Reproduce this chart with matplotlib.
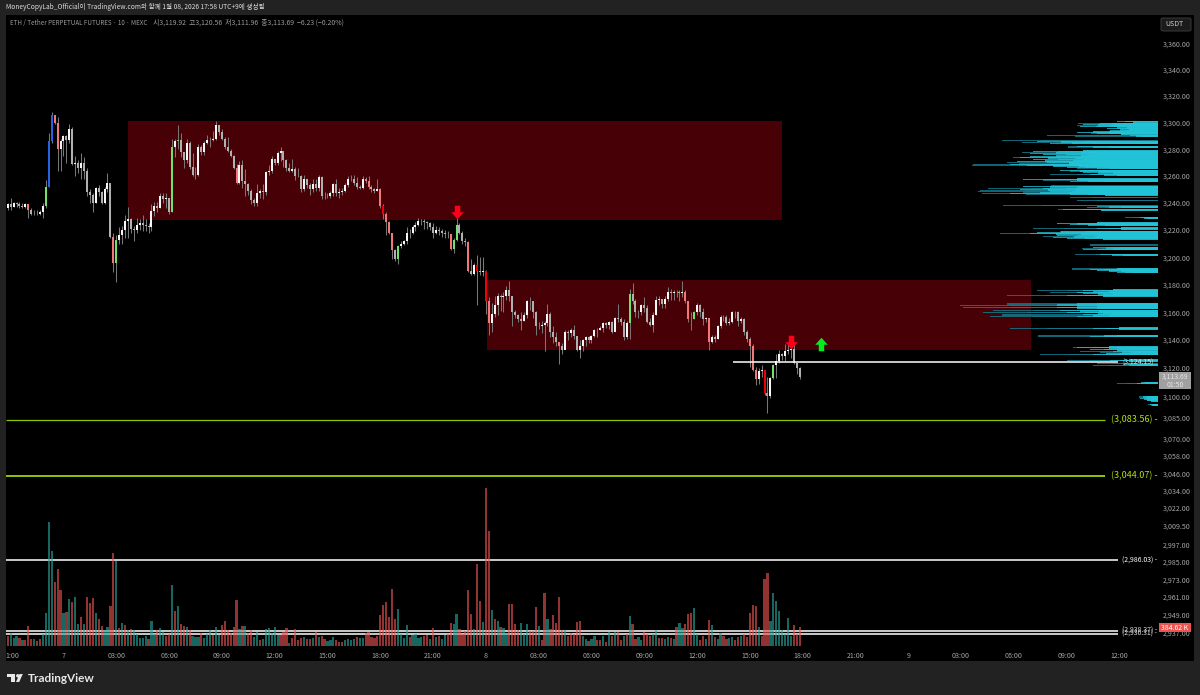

import numpy as np
import matplotlib
matplotlib.use('Agg')
import matplotlib.pyplot as plt
from matplotlib.patches import Rectangle, Ellipse, Polygon, FancyBboxPatch
from matplotlib.path import Path

plt.rcParams['font.family'] = ['Noto Sans CJK KR', 'DejaVu Sans']

##########
## DATA ##
##########

# 10 minute bars, first bar at 20:50 on the 6th (hours counted from 00:00 on the 7th)
first_bar_hour = -19 / 6

closes = [
    3239, 3237, 3240, 3239, 3238, 3237, 3239, 3235, 3232, 3232,
    3232, 3233, 3238, 3252, 3286, 3306, 3300, 3280, 3286, 3290,
    3287, 3295, 3269, 3270, 3266, 3270, 3264, 3248, 3246, 3240,
    3251, 3248, 3240, 3250, 3255, 3215, 3196, 3213, 3216, 3220,
    3227, 3228, 3221, 3220, 3224, 3225, 3224, 3223, 3222, 3234,
    3238, 3236, 3245, 3243, 3244, 3233, 3282, 3286, 3287, 3278,
    3272, 3285, 3267, 3261, 3261, 3282, 3278, 3285, 3287, 3287,
    3288, 3298, 3293, 3288, 3282, 3279, 3275, 3266, 3255, 3268,
    3256, 3254, 3249, 3242, 3240, 3247, 3249, 3248, 3263, 3264,
    3273, 3270, 3277, 3279, 3272, 3266, 3264, 3265, 3260, 3260,
    3250, 3258, 3253, 3250, 3254, 3251, 3259, 3245, 3245, 3245,
    3247, 3254, 3247, 3248, 3249, 3253, 3258, 3258, 3255, 3252,
    3251, 3258, 3256, 3252, 3250, 3249, 3250, 3238, 3232, 3226,
    3218, 3205, 3199, 3208, 3210, 3212, 3218, 3218, 3222, 3224,
    3227, 3227, 3226, 3225, 3222, 3218, 3220, 3219, 3218, 3217,
    3217, 3206, 3213, 3224, 3218, 3212, 3211, 3190, 3188, 3194,
    3190, 3189, 3190, 3168, 3152, 3159, 3165, 3172, 3171, 3172,
    3176, 3172, 3160, 3158, 3155, 3154, 3158, 3168, 3168, 3160,
    3150, 3150, 3151, 3152, 3159, 3146, 3142, 3139, 3136, 3133,
    3146, 3145, 3147, 3143, 3133, 3136, 3140, 3142, 3140, 3143,
    3147, 3147, 3149, 3152, 3151, 3153, 3146, 3156, 3155, 3153,
    3142, 3152, 3173, 3168, 3160, 3160, 3165, 3163, 3153, 3151,
    3158, 3169, 3170, 3166, 3170, 3175, 3174, 3175, 3175, 3174,
    3175, 3168, 3155, 3155, 3160, 3165, 3160, 3155, 3156, 3139,
    3142, 3141, 3150, 3157, 3157, 3152, 3153, 3160, 3160, 3154,
    3155, 3146, 3141, 3136, 3119, 3112, 3118, 3119, 3102, 3100,
    3113, 3122, 3125, 3130, 3129, 3132, 3133, 3134, 3124, 3119.92,
    3113.69]
highs = [
    3240, 3244, 3241, 3241, 3241, 3240, 3240, 3238, 3236, 3235,
    3235, 3235, 3240, 3257, 3292, 3308, 3306, 3304, 3288, 3291,
    3291, 3299, 3297, 3275, 3272, 3277, 3274, 3266, 3250, 3247,
    3252, 3253, 3249, 3252, 3262, 3255, 3218, 3216, 3222, 3223,
    3231, 3237, 3229, 3223, 3229, 3228, 3231, 3228, 3225, 3239,
    3241, 3241, 3247, 3247, 3247, 3241, 3288, 3288, 3298, 3292,
    3278, 3288, 3286, 3277, 3267, 3284, 3283, 3286, 3291, 3289,
    3294, 3301, 3298, 3295, 3289, 3289, 3280, 3276, 3269, 3271,
    3272, 3265, 3255, 3250, 3244, 3254, 3250, 3254, 3264, 3268,
    3275, 3273, 3279, 3282, 3275, 3273, 3270, 3273, 3267, 3266,
    3261, 3261, 3258, 3255, 3258, 3258, 3261, 3260, 3248, 3247,
    3249, 3255, 3258, 3251, 3251, 3255, 3260, 3261, 3261, 3259,
    3253, 3260, 3259, 3260, 3253, 3251, 3258, 3251, 3239, 3233,
    3227, 3218, 3206, 3209, 3212, 3213, 3222, 3221, 3224, 3226,
    3229, 3228, 3228, 3227, 3226, 3225, 3223, 3222, 3221, 3220,
    3219, 3217, 3214, 3229, 3225, 3219, 3214, 3212, 3199, 3196,
    3202, 3200, 3200, 3191, 3171, 3167, 3172, 3174, 3173, 3175,
    3179, 3183, 3172, 3162, 3159, 3160, 3160, 3169, 3171, 3166,
    3161, 3153, 3154, 3154, 3166, 3160, 3150, 3146, 3139, 3138,
    3147, 3147, 3149, 3151, 3143, 3140, 3141, 3143, 3143, 3144,
    3148, 3149, 3150, 3153, 3153, 3154, 3154, 3157, 3166, 3157,
    3155, 3154, 3177, 3181, 3170, 3162, 3166, 3171, 3165, 3156,
    3160, 3172, 3172, 3170, 3172, 3178, 3177, 3176, 3176, 3176,
    3183, 3176, 3168, 3160, 3161, 3167, 3166, 3163, 3157, 3155,
    3144, 3144, 3151, 3158, 3158, 3158, 3156, 3161, 3161, 3161,
    3157, 3156, 3147, 3142, 3137, 3121, 3120, 3122, 3118, 3114,
    3114, 3123, 3130, 3133, 3131, 3137, 3137, 3138, 3139, 3124,
    3120.56]
lows = [
    3235, 3235, 3237, 3237, 3236, 3236, 3236, 3229, 3231, 3231,
    3231, 3231, 3229, 3236, 3252, 3285, 3299, 3264, 3264, 3275,
    3270, 3285, 3268, 3260, 3262, 3258, 3258, 3245, 3240, 3233,
    3240, 3245, 3239, 3239, 3248, 3214, 3189, 3182, 3210, 3210,
    3214, 3214, 3218, 3212, 3218, 3220, 3219, 3219, 3218, 3219,
    3230, 3233, 3236, 3240, 3236, 3232, 3233, 3274, 3280, 3274,
    3266, 3270, 3265, 3260, 3258, 3260, 3276, 3276, 3284, 3282,
    3286, 3287, 3291, 3287, 3280, 3278, 3274, 3265, 3254, 3254,
    3251, 3245, 3246, 3239, 3238, 3238, 3244, 3243, 3246, 3261,
    3262, 3268, 3268, 3271, 3267, 3264, 3263, 3263, 3257, 3259,
    3248, 3249, 3251, 3246, 3248, 3249, 3249, 3243, 3243, 3244,
    3244, 3245, 3245, 3244, 3246, 3248, 3252, 3256, 3253, 3250,
    3250, 3250, 3255, 3250, 3248, 3247, 3249, 3236, 3228, 3216,
    3217, 3199, 3197, 3195, 3207, 3209, 3210, 3214, 3217, 3219,
    3223, 3224, 3221, 3221, 3220, 3214, 3217, 3216, 3215, 3214,
    3214, 3205, 3203, 3212, 3217, 3210, 3208, 3189, 3187, 3187,
    3165, 3187, 3186, 3159, 3144, 3146, 3157, 3158, 3161, 3160,
    3169, 3168, 3150, 3156, 3153, 3147, 3154, 3156, 3162, 3156,
    3144, 3148, 3145, 3132, 3150, 3142, 3138, 3136, 3123, 3130,
    3134, 3140, 3142, 3141, 3132, 3127, 3132, 3136, 3138, 3138,
    3142, 3142, 3147, 3146, 3149, 3148, 3145, 3147, 3153, 3151,
    3140, 3141, 3141, 3166, 3157, 3156, 3158, 3160, 3152, 3150,
    3146, 3158, 3165, 3163, 3163, 3168, 3169, 3169, 3171, 3168,
    3171, 3167, 3153, 3147, 3155, 3158, 3157, 3151, 3153, 3133,
    3138, 3139, 3141, 3149, 3154, 3151, 3151, 3152, 3156, 3150,
    3152, 3144, 3139, 3121, 3118, 3108, 3109, 3114, 3101, 3088,
    3099, 3112, 3113, 3124, 3126, 3125, 3130, 3127, 3123, 3116,
    3111.96]

# bars the chart paints in another colour
green_bars = [13, 37, 56, 58, 133, 152, 153, 212, 229, 234, 261]
blue_bars = [14, 15]
pink_bars = [7, 16, 17, 36, 78, 122, 123, 127, 129, 130, 131, 151, 157, 164, 188,
             231, 232, 239, 253, 254, 255, 259]
red_bars = [128, 160, 163, 258]

# volume, 1 unit is about 6.75K (last bar = 384.62K)
volumes = [
    30, 40, 23, 30, 23, 18, 18, 61, 21, 20,
    16, 20, 35, 100, 373, 286, 192, 230, 168, 100,
    102, 141, 132, 146, 67, 87, 66, 147, 128, 144,
    100, 80, 60, 48, 57, 120, 278, 256, 53, 70,
    63, 48, 50, 48, 36, 24, 24, 30, 21, 74,
    36, 48, 53, 42, 30, 36, 182, 104, 119, 66,
    60, 57, 48, 30, 27, 27, 40, 23, 37, 48,
    33, 57, 33, 63, 75, 48, 39, 57, 138, 51,
    60, 60, 40, 48, 28, 43, 18, 21, 51, 53,
    38, 57, 33, 33, 42, 53, 10, 23, 51, 18,
    24, 26, 20, 21, 23, 42, 27, 30, 21, 15,
    18, 27, 18, 12, 12, 18, 20, 18, 21, 27,
    23, 24, 38, 42, 26, 23, 30, 93, 124, 132,
    87, 170, 81, 112, 36, 23, 64, 27, 33, 36,
    23, 28, 30, 33, 21, 54, 26, 29, 21, 33,
    37, 69, 67, 95, 51, 36, 46, 168, 96, 51,
    246, 134, 71, 473, 345, 108, 82, 75, 58, 54,
    38, 127, 127, 67, 49, 68, 36, 65, 46, 46,
    117, 59, 18, 160, 82, 51, 93, 69, 148, 48,
    48, 30, 40, 36, 72, 75, 30, 21, 14, 20,
    30, 18, 18, 30, 12, 42, 30, 42, 43, 18,
    30, 37, 89, 65, 22, 26, 18, 42, 36, 30,
    37, 48, 23, 23, 21, 26, 24, 21, 57, 68,
    54, 65, 95, 98, 113, 36, 18, 30, 21, 78,
    64, 27, 22, 40, 30, 21, 24, 27, 18, 27,
    30, 36, 27, 99, 122, 119, 57, 30, 202, 220,
    75, 160, 135, 105, 48, 36, 85, 30, 64, 36,
    57]
volume_dirs = (
    'rgggrgrrrg' 'rrggggrrrg' 'rgrggrgrrr' 'grrggrrgrg' 'rgrgggggrg'
    'grggrrgrgr' 'rgrgggrggg' 'rggrrrrrrg' 'rgrrggrggg' 'gggrrrgrrr'
    'rgrrgrgrrg' 'ggrrrggggr' 'ggrrrrrrrr' 'rrrggggrgg' 'ggrrgrgrgg'
    'rrggrrrrrg' 'rrgrrgrgrg' 'grrrrgggrr' 'rgrrgrrrrr' 'grrrrrggrg'
    'grrgrgrgrr' 'grgrrggrrr' 'ggrrggrgrg' 'grrrggrrgr' 'grggrrggrr'
    'grrrrrgrrr' 'ggggggggrr' 'r')

# supply zones
zone_starts = [3.66, 24.06]
zone_ends = [40.82, 54.98]
zone_tops = [3301, 3183.4]
zone_bottoms = [3227.1, 3133]

# level lines
green_levels = [3083.56, 3044.07]
white_levels = [2986.03, 2938.37, 2936.31]
short_level = 3124.15

# signal arrows
down_arrow_hours = [22.36, 41.33]
down_arrow_prices = [3233, 3139]
up_arrow_hours = [43.04]
up_arrow_prices = [3137.5]

# volume profile on the right, far thin rows and the brighter rows over them
profile_dim_prices = [
    3299.5, 3297.8, 3292.2, 3290, 3286.6, 3285.1, 3281.7, 3277.6, 3273.9, 3270.3,
    3268.8, 3267.9, 3265.9, 3263.7, 3261.3, 3256.9, 3252.5, 3250.8, 3249.4, 3248.2,
    3246.7, 3244, 3241.6, 3237.9, 3236.7, 3235, 3229.4, 3224.5, 3221.1, 3218.5,
    3217.2, 3215, 3209, 3206.5, 3201.9, 3191.5, 3175.6, 3174.2, 3172.2, 3166.1,
    3164.9, 3163.7, 3161.3, 3160.1, 3158.1, 3157.2, 3148.4, 3143, 3134.8, 3131.6,
    3129.6, 3125.5, 3123.1, 3121.9, 3109.2, 3099.5, 3097, 3093.9]
profile_dim_vols = [
    80, 81, 90, 111, 156, 136, 120, 136, 145, 151,
    185, 186, 108, 118, 108, 153, 143, 170, 178, 180,
    176, 88, 81, 155, 71, 100, 33, 108, 125, 131,
    158, 115, 91, 76, 83, 115, 121, 108, 151, 201,
    198, 195, 165, 175, 208, 168, 148, 160, 85, 78,
    118, 91, 61, 65, 41, 25, 11, 10]
profile_prices = [
    3300.7, 3299.2, 3298.3, 3297.1, 3295.8, 3294.4, 3292.7, 3291.7, 3290, 3285.6,
    3284.6, 3281.7, 3278.3, 3277.1, 3275.9, 3274.7, 3273.5, 3272.2, 3271, 3269.8,
    3268.6, 3267.6, 3266.6, 3265.7, 3263.7, 3262.3, 3260.8, 3257.4, 3256.2, 3252,
    3250.8, 3249.6, 3248.4, 3247.2, 3246.2, 3237, 3235, 3228.9, 3224.8, 3223.8,
    3221.1, 3218.5, 3217.2, 3216, 3214.8, 3213.8, 3207, 3205.8, 3201.9, 3191.2,
    3190.2, 3189, 3175.9, 3174.7, 3173.5, 3172.2, 3165.9, 3164.7, 3163.2, 3161,
    3159.8, 3158.6, 3157.2, 3148.4, 3142.8, 3134.8, 3133.3, 3131.6, 3129.9, 3125.5,
    3122.4, 3109.2, 3099.5, 3098.3, 3097, 3093.9]
profile_vols = [
    41, 58, 75, 78, 51, 48, 81, 61, 28, 121,
    108, 81, 125, 128, 115, 128, 138, 125, 141, 111,
    148, 131, 91, 61, 98, 75, 68, 135, 88, 135,
    115, 138, 108, 148, 88, 61, 95, 18, 101, 88,
    61, 121, 128, 101, 105, 91, 65, 75, 58, 68,
    61, 41, 75, 81, 75, 91, 101, 101, 101, 98,
    91, 75, 81, 65, 68, 81, 68, 45, 65, 48,
    35, 21, 15, 18, 11, 8]

# axis labels
price_ticks = [3360, 3340, 3320, 3300, 3280, 3260, 3240, 3220, 3200, 3180, 3160, 3140,
               3120, 3100, 3085, 3070, 3058, 3046, 3034, 3022, 3009.5, 2997, 2985,
               2973, 2961, 2949, 2937]
time_ticks = [-2.9, 0, 3, 6, 9, 12, 15, 18, 21, 24, 27, 30, 33, 36, 39, 42, 45, 48, 51, 54, 57, 60]
time_labels = ['1:00', '7', '03:00', '06:00', '09:00', '12:00', '15:00', '18:00', '21:00', '8',
               '03:00', '06:00', '09:00', '12:00', '15:00', '18:00', '21:00', '9',
               '03:00', '06:00', '09:00', '12:00']

header = 'MoneyCopyLab_Official이 TradingView.com와 함께 1월 08, 2026 17:58 UTC+9에 생성됨'
legend_name = 'ETH / Tether PERPETUAL FUTURES · 10 · MEXC'
legend_values = '시3,119.92  고3,120.56  저3,111.96  종3,113.69  −6.23 (−0.20%)'

#############
## COLOURS ##
#############

bg_outer = '#222222'
zone_color = '#470005'
wick_color = '#777777'
up_color = '#f6f6f6'
down_color = '#b0b0b0'
level_green = '#8fc800'
label_green = '#b4e010'
profile_color = '#22c4d8'
profile_dim_color = '#14788a'
tick_color = '#a8a8a8'

############
## FIGURE ##
############

W, H = 1200, 695
fig = plt.figure(figsize=(W / 100, H / 100), dpi=100, facecolor=bg_outer)


def px_rect(x0, y0, x1, y1):
    # figure fractions for a box given in pixels from the top left
    return [x0 / W, 1 - y1 / H, (x1 - x0) / W, (y1 - y0) / H]


def fig_box(x0, y0, x1, y1, color, z):
    l, b, w, h = px_rect(x0, y0, x1, y1)
    fig.add_artist(Rectangle((l, b), w, h, transform=fig.transFigure, color=color, lw=0, zorder=z))


fig_box(6, 15, 1194, 661, 'black', -1)

ax = fig.add_axes(px_rect(6, 15, 1158, 646))
ax.set_facecolor('black')
for s in ax.spines.values():
    s.set_visible(False)
ax.set_yscale('log')
ax.set_xlim(-3.267, 62.19)
ax.set_ylim(2928.1, 3382.1)

# zones
for t0, t1, top, bottom in zip(zone_starts, zone_ends, zone_tops, zone_bottoms):
    ax.add_patch(Rectangle((t0, bottom), t1 - t0, top - bottom, color=zone_color, lw=0, zorder=1))

# candles
closes = np.array(closes)
highs = np.array(highs)
lows = np.array(lows)
opens = np.r_[3236, closes[:-1]]
bar_hours = first_bar_hour + np.arange(len(closes)) / 6

body_colors = [up_color if c >= o else down_color for o, c in zip(opens, closes)]
for idx in green_bars:
    body_colors[idx] = '#72e06c'
for idx in blue_bars:
    body_colors[idx] = '#2563e0'
for idx in pink_bars:
    body_colors[idx] = '#f27878'
for idx in red_bars:
    body_colors[idx] = '#f00008'

ax.vlines(bar_hours, lows, highs, colors=wick_color, lw=0.75, capstyle='butt', zorder=3)
ax.vlines(bar_hours, np.minimum(opens, closes), np.maximum(opens, closes), colors=body_colors,
          lw=1.45, capstyle='butt', zorder=4)

# levels
ax.hlines(green_levels[0], -3.267, 59.2, colors=level_green, lw=0.9, zorder=2)
ax.hlines(green_levels[1], -3.267, 59.2, colors=level_green, lw=1.4, zorder=2)
ax.hlines(white_levels, -3.267, 59.9, colors='white', lw=1.1, zorder=2)
ax.hlines(short_level, 38.04, 59.9, colors='white', lw=1.1, zorder=6)

# arrows
down_marker = Path([(-0.2, 0.5), (0.2, 0.5), (0.2, 0.02), (0.46, 0.02), (0, -0.5), (-0.46, 0.02),
                    (-0.2, 0.02), (-0.2, 0.5)])
up_marker = Path([(-0.2, -0.5), (0.2, -0.5), (0.2, -0.02), (0.46, -0.02), (0, 0.5), (-0.46, -0.02),
                  (-0.2, -0.02), (-0.2, -0.5)])
ax.scatter(down_arrow_hours, down_arrow_prices, marker=down_marker, s=95, color='#ff0018', lw=0, zorder=7)
ax.scatter(up_arrow_hours, up_arrow_prices, marker=up_marker, s=95, color='#00ee20', lw=0, zorder=7)

# level labels, right aligned next to the price scale
label_x = 62.15
ax.text(label_x, green_levels[0], '(3,083.56) -', color=label_green, fontsize=6.5, ha='right', va='center', zorder=8)
ax.text(label_x, green_levels[1], '(3,044.07) -', color=label_green, fontsize=6.5, ha='right', va='center', zorder=8)
ax.text(label_x, white_levels[0], '(2,986.03) -', color='white', fontsize=5, ha='right', va='center', zorder=8)
ax.text(label_x, white_levels[1], '(2,938.37) -', color='#dddddd', fontsize=5, ha='right', va='center', zorder=8)
ax.text(label_x, white_levels[2], '(2,936.31) -', color='#dddddd', fontsize=5, ha='right', va='center', zorder=8)

# volume panel, same time axis, bars sit at the foot of the chart
ax_vol = ax.twinx()
ax_vol.set_ylim(0, 1893)
ax_vol.set_yticks([])
ax_vol.patch.set_visible(False)
for s in ax_vol.spines.values():
    s.set_visible(False)
vol_colors = ['#ef5350' if d == 'r' else '#26a69a' for d in volume_dirs]
ax_vol.bar(bar_hours, volumes, width=0.125, color=vol_colors, alpha=0.62, lw=0)

# volume profile, grows to the left out of the price scale
# each row is drawn thin at full length and thicker further in, so the tips taper
ax_prof = ax.twiny()
ax_prof.set_xlim(1152, 0)
ax_prof.set_xticks([])
ax_prof.patch.set_visible(False)
ax_prof.set_zorder(2)
for s in ax_prof.spines.values():
    s.set_visible(False)
dim_p = np.array(profile_dim_prices)
dim_v = np.array(profile_dim_vols)
bright_p = np.array(profile_prices)
bright_v = np.array(profile_vols)
ax_prof.barh(dim_p, dim_v, height=0.55, color=profile_dim_color, alpha=0.85, lw=0)
ax_prof.barh(dim_p, dim_v * 0.75, height=1.0, color=profile_dim_color, alpha=0.85, lw=0)
ax_prof.barh(bright_p, bright_v, height=0.75, color=profile_color, alpha=0.75, lw=0)
ax_prof.barh(bright_p, bright_v * 0.8, height=1.2, color=profile_color, alpha=0.8, lw=0)
ax_prof.barh(bright_p, bright_v * 0.6, height=1.6, color=profile_color, alpha=0.9, lw=0)
ax_prof.text(19.5, short_level, '(3,124.15)', color='#cfe8ec', fontsize=5, ha='center', va='center')

# twinx moved the price labels to the left, put them back on the right
ax.yaxis.tick_right()
ax.set_yticks(price_ticks)
ax.set_yticklabels(['{:,.2f}'.format(p) for p in price_ticks])
ax.minorticks_off()
ax.tick_params(axis='y', length=0, pad=3.5, labelsize=5.1, labelcolor=tick_color)
ax.set_xticks(time_ticks)
ax.set_xticklabels(time_labels)
ax.tick_params(axis='x', length=0, pad=4, labelsize=5.1, labelcolor=tick_color)

# text round the chart
fig.text(6 / W, 1 - 7 / H, header, color='#dddddd', fontsize=4.76, ha='left', va='center')
fig.text(10 / W, 1 - 23 / H, legend_name, color='#9a9a9a', fontsize=4.5, ha='left', va='center')
fig.text(153 / W, 1 - 23 / H, legend_values, color='#9a9a9a', fontsize=5, ha='left', va='center')

# USDT box
l, b, w, h = px_rect(1161, 18, 1191, 31)
fig.add_artist(FancyBboxPatch((l, b), w, h, boxstyle='round,pad=0,rounding_size=0.002', transform=fig.transFigure,
                              fc='#1b1b1b', ec='#3a3a3a', lw=0.7, zorder=5))
fig.text(1165 / W, 1 - 24.5 / H, 'USDT', color='#cccccc', fontsize=5, ha='left', va='center', zorder=6)

# last price and volume flags
fig_box(1158.5, 372, 1191, 389, '#a0a0a0', 5)
fig.text(1175 / W, 1 - 377 / H, '3,113.69', color='#e4e4e4', fontsize=5, ha='center', va='center', zorder=6)
fig.text(1175 / W, 1 - 384.5 / H, '01:50', color='#e4e4e4', fontsize=5, ha='center', va='center', zorder=6)
fig_box(1158.5, 623, 1190.5, 632, '#ef5350', 5)
fig.text(1175 / W, 1 - 627.5 / H, '384.62 K', color='white', fontsize=5, ha='center', va='center', zorder=6)

# TradingView logo
logo = [Rectangle((7 / W, 1 - 677 / H), 8 / W, 3 / H),
        Rectangle((10.5 / W, 1 - 682 / H), 4.5 / W, 8 / H),
        Ellipse((17.8 / W, 1 - 675.8 / H), 3.4 / W, 3.4 / H),
        Polygon([(16 / W, 1 - 682 / H), (19.6 / W, 1 - 674 / H), (22.8 / W, 1 - 674 / H), (19.2 / W, 1 - 682 / H)])]
for part in logo:
    part.set(transform=fig.transFigure, color='#e8e8e8', lw=0, zorder=5)
    fig.add_artist(part)
fig.text(27.5 / W, 1 - 678.5 / H, 'TradingView', color='#e8e8e8', fontsize=8.5, ha='left', va='center',
         family=['Lato', 'DejaVu Sans'], weight='bold')

fig.savefig('out.png', dpi=100, facecolor=bg_outer)
